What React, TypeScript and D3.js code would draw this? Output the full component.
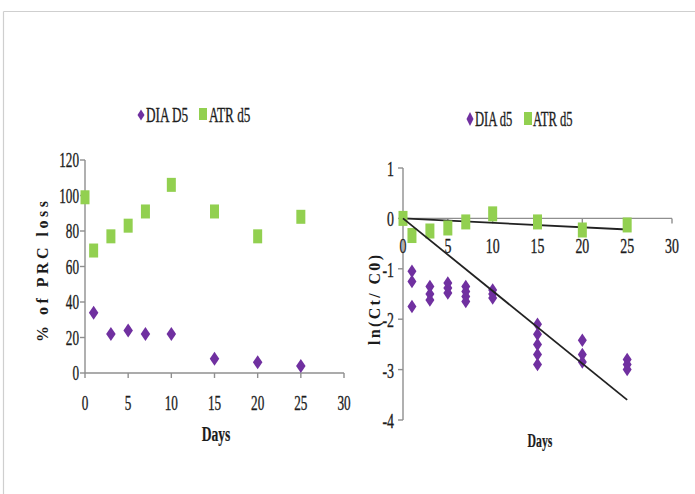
import React from "react";
import * as d3 from "d3";

// ---- Left panel data (% of PRC loss) ----
const leftATRDays = [0, 1, 3, 5, 7, 10, 15, 20, 25];
const leftATR = [99, 69, 77, 83, 91, 106, 91, 77, 88];
const leftDIADays = [1, 3, 5, 7, 10, 15, 20, 25];
const leftDIA = [34, 22, 24, 22, 22, 8, 6, 4];
const leftYTicks = [0, 20, 40, 60, 80, 100, 120];
const xTicks = [0, 5, 10, 15, 20, 25, 30];

// ---- Right panel data (ln(Ct/C0)) ----
const rightATRDays = [0, 1, 3, 5, 7, 10, 15, 20, 25];
const rightATR = [0, -0.34, -0.25, -0.19, -0.07, 0.09, -0.07, -0.23, -0.13];
const rightDIADays = [1, 3, 5, 7, 10, 15, 20, 25];
const rightDIA = [
  [-1.05, -1.25, -1.75],
  [-1.35, -1.5, -1.62],
  [-1.28, -1.38, -1.48],
  [-1.35, -1.45, -1.55, -1.65],
  [-1.42, -1.5, -1.58],
  [-2.1, -2.3, -2.5, -2.7, -2.9],
  [-2.42, -2.7, -2.85],
  [-2.8, -2.9, -3.0],
];
const rightYTicks = [1, 0, -1, -2, -3, -4];
const trendEndDay = 25;
const atrSlope = -0.0088;
const diaSlope = -0.144;

const PURPLE = "#7030A0";
const GREEN = "#92D050";
const AXIS = "#8f8f8f";
const TXT = "#1c1c1c";
const SERIF = "'Liberation Serif', 'Times New Roman', serif";

function T({ x, y, children, size = 20, sx = 0.66, anchor = "middle", weight = "normal" }: any) {
  return (
    <text
      transform={`translate(${x},${y}) scale(${sx},1)`}
      fontFamily={SERIF}
      fontSize={size}
      fontWeight={weight}
      textAnchor={anchor}
      fill={TXT}
      stroke={TXT}
      strokeWidth={weight === "bold" ? 0.2 : 0.35}
    >
      {children}
    </text>
  );
}

const diamond = (cx: number, cy: number, w: number, h: number) =>
  `M${cx},${cy - h / 2}L${cx + w / 2},${cy}L${cx},${cy + h / 2}L${cx - w / 2},${cy}Z`;

export default function App() {
  const xL = d3.scaleLinear().domain([0, 30]).range([85, 344]);
  const yL = d3.scaleLinear().domain([0, 120]).range([373, 160]);
  const xR = d3.scaleLinear().domain([0, 30]).range([403, 672]);
  const yR = d3.scaleLinear().domain([-4, 1]).range([420, 168]);

  return (
    <svg
      width={695}
      height={494}
      style={{ position: "absolute", left: 0, top: 0, background: "#fff" }}
    >
      {/* frame */}
      <line x1={3.5} y1={11.5} x2={695} y2={11.5} stroke="#cfcfcf" strokeWidth={1.2} />
      <line x1={3.5} y1={11.5} x2={3.5} y2={494} stroke="#cfcfcf" strokeWidth={1.2} />

      {/* ===== LEFT PANEL ===== */}
      <path d={diamond(141, 115, 7, 11)} fill={PURPLE} />
      <T x={146} y={122} size={22} sx={0.6} anchor="start">DIA D5</T>
      <rect x={199} y={108} width={8} height={12} fill={GREEN} />
      <T x={209} y={122} size={22} sx={0.6} anchor="start">ATR d5</T>

      <line x1={xL(0)} y1={yL(0)} x2={xL(30)} y2={yL(0)} stroke={AXIS} strokeWidth={1.4} />
      <line x1={xL(0)} y1={yL(0)} x2={xL(0)} y2={yL(120)} stroke={AXIS} strokeWidth={1.4} />
      {xTicks.map((t) => (
        <g key={"lx" + t}>
          <line x1={xL(t)} y1={yL(0)} x2={xL(t)} y2={yL(0) + 5} stroke={AXIS} strokeWidth={1.4} />
          <T x={xL(t)} y={410}>{t}</T>
        </g>
      ))}
      {leftYTicks.map((t) => (
        <g key={"ly" + t}>
          <line x1={xL(0) - 5} y1={yL(t)} x2={xL(0)} y2={yL(t)} stroke={AXIS} strokeWidth={1.4} />
          <T x={79} y={yL(t) + 7} anchor="end">{t}</T>
        </g>
      ))}
      <T x={216} y={441} size={20} sx={0.68} weight="bold">Days</T>
      <text
        transform={`translate(48,342) rotate(-90)`}
        fontFamily={SERIF}
        fontSize={16}
        fontWeight="bold"
        fill={TXT}
        textLength={141}
        lengthAdjust="spacing"
      >
        % of PRC loss
      </text>

      {leftATRDays.map((d, i) => (
        <rect key={"la" + i} x={xL(d) - 4.5} y={yL(leftATR[i]) - 7} width={9} height={14} fill={GREEN} />
      ))}
      {leftDIADays.map((d, i) => (
        <path key={"ld" + i} d={diamond(xL(d), yL(leftDIA[i]), 9.5, 14)} fill={PURPLE} />
      ))}

      {/* ===== RIGHT PANEL ===== */}
      <path d={diamond(470, 119, 7, 14)} fill={PURPLE} />
      <T x={475} y={126} size={21} sx={0.6} anchor="start">DIA d5</T>
      <rect x={524} y={112} width={8} height={13} fill={GREEN} />
      <T x={533} y={126} size={21} sx={0.6} anchor="start">ATR d5</T>

      <line x1={xR(0)} y1={yR(0)} x2={xR(30)} y2={yR(0)} stroke={AXIS} strokeWidth={1.4} />
      <line x1={xR(0)} y1={yR(-4)} x2={xR(0)} y2={yR(1)} stroke={AXIS} strokeWidth={1.4} />
      {xTicks.map((t) => (
        <g key={"rx" + t}>
          <line x1={xR(t)} y1={yR(0)} x2={xR(t)} y2={yR(0) + 5} stroke={AXIS} strokeWidth={1.4} />
          <T x={xR(t)} y={253} size={21}>{t}</T>
        </g>
      ))}
      {rightYTicks.map((t) => (
        <g key={"ry" + t}>
          <line x1={xR(0) - 5} y1={yR(t)} x2={xR(0)} y2={yR(t)} stroke={AXIS} strokeWidth={1.4} />
          <T x={394} y={yR(t) + 8} size={21} anchor="end">{t}</T>
        </g>
      ))}
      <T x={540} y={447} size={19} sx={0.62} weight="bold">Days</T>
      <text
        transform={`translate(380,345) rotate(-90)`}
        fontFamily={SERIF}
        fontSize={16}
        fontWeight="bold"
        fill={TXT}
        textLength={90}
        lengthAdjust="spacing"
      >
        ln(Ct/ C0)
      </text>

      <line
        x1={xR(0)} y1={yR(0)} x2={xR(trendEndDay)} y2={yR(atrSlope * trendEndDay)}
        stroke="#222" strokeWidth={1.8}
      />
      {rightATRDays.map((d, i) => (
        <rect key={"ra" + i} x={xR(d) - 4.5} y={yR(rightATR[i]) - 7.5} width={9} height={15} fill={GREEN} />
      ))}
      {rightDIADays.map((d, i) =>
        rightDIA[i].map((v, j) => (
          <path key={"rd" + i + "-" + j} d={diamond(xR(d), yR(v), 9, 13.5)} fill={PURPLE} />
        ))
      )}
      <line
        x1={xR(0)} y1={yR(0)} x2={xR(trendEndDay)} y2={yR(diaSlope * trendEndDay)}
        stroke="#222" strokeWidth={1.8}
      />
    </svg>
  );
}
